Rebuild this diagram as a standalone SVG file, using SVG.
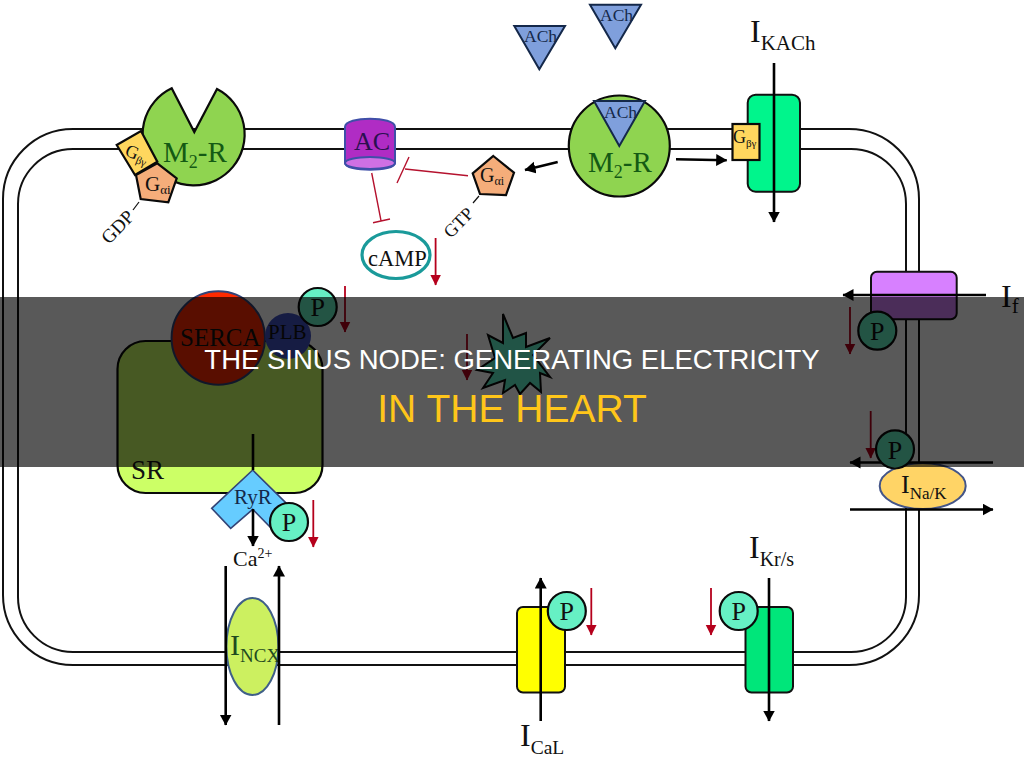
<svg xmlns="http://www.w3.org/2000/svg" width="1024" height="757" viewBox="0 0 1024 757">
<style>
.s{font-family:"Liberation Serif","Times New Roman",serif;fill:#111}
.ln{fill:none;stroke:#111;stroke-width:2}
.blk{stroke:#000;stroke-width:2.6;fill:none}
.bk{stroke:#000;stroke-width:2.6;fill:none;marker-end:url(#ah)}
.rd{stroke:#b5001c;stroke-width:1.8;fill:none;marker-end:url(#rh)}
.inh{stroke:#b5122e;stroke-width:1.4;fill:none}
.ph{fill:#66f0c4;stroke:#0a0a0a;stroke-width:2.2}
.ach{fill:#7f9fdc;stroke:#14284a;stroke-width:2}
.rec{fill:#8fd450;stroke:#0a0a0a;stroke-width:2.2}
.box{stroke:#111;stroke-width:2}
.title{font-family:"Liberation Sans",Arial,sans-serif;text-anchor:middle}
</style>
<defs>
<marker id="ah" markerUnits="userSpaceOnUse" markerWidth="14" markerHeight="14" refX="10.5" refY="6" orient="auto"><path d="M0 0L11 6L0 12Z" fill="#000"/></marker>
<marker id="rh" markerUnits="userSpaceOnUse" markerWidth="14" markerHeight="14" refX="10.5" refY="5.5" orient="auto"><path d="M0 0L11 5.5L0 11Z" fill="#b5001c"/></marker>
</defs>
<rect width="1024" height="757" fill="#fff"/>
<g id="membrane">
<rect class="ln" x="3" y="129" width="916" height="536" rx="70"/>
<rect class="ln" x="18" y="149" width="888" height="503" rx="55"/>
</g>
<g id="sr">
<rect x="117.5" y="341" width="205" height="152" rx="28" fill="#ccff66" stroke="#0a0a0a" stroke-width="2.2"/>
<text class="s" x="131" y="479" font-size="27">SR</text>
</g>
<g id="m2r-left">
<path class="rec" d="M171.7 88.3A51 51 0 1 0 217 89L194.3 132Z"/>
<text x="163" y="162" font-size="29" class="s" style="fill:#145a14">M<tspan font-size="18" dy="6">2</tspan><tspan dy="-6">-R</tspan></text></g>
<g id="gbg-left"><polygon points="116.7,145 141,131 157.3,161.7 135,175" fill="#ffd75e" stroke="#0a0a0a" stroke-width="2.2"/>
<text class="s" x="124" y="155" font-size="18" transform="rotate(22 124 155)">G<tspan font-size="11" dy="3">βγ</tspan></text></g>
<g id="gai-left"><polygon points="136,175 157.3,163.3 176.7,178.3 168.3,202.3 140.7,199" fill="#f5ad7a" stroke="#0a0a0a" stroke-width="2.2"/>
<text class="s" x="145" y="191" font-size="21">G<tspan font-size="13" dy="3">αi</tspan></text></g>
<g id="gdp"><text class="s" x="109" y="245" font-size="19" transform="rotate(-46 109 245)">GDP</text><path d="M133 210L139 202" stroke="#111" stroke-width="1.2"/></g>
<g id="ac">
<path d="M345 127C345 116 395 116 395 127V163C395 172 345 172 345 163Z" fill="#b02cc4" stroke="#3f4fa8" stroke-width="2"/>
<ellipse cx="370" cy="163" rx="25" ry="6" fill="#cf70e4" stroke="#3f4fa8" stroke-width="2"/>
<text x="354" y="150" font-size="26" class="s" style="fill:#2a1050">AC</text></g>
<g id="camp"><ellipse cx="396" cy="255" rx="34" ry="23.5" fill="#fff" stroke="#1a9a9a" stroke-width="3.2"/>
<text class="s" x="368" y="266" font-size="22.5">cAMP</text></g>
<g id="ach-1"><polygon class="ach" points="514.3,26 565,26 539.3,69.3"/><text x="524" y="42" font-size="17.5" class="s" style="fill:#14284a">ACh</text></g>
<g id="ach-2"><polygon class="ach" points="590,4.7 641,4.7 615.3,48.3"/><text x="600" y="21" font-size="17.5" class="s" style="fill:#14284a">ACh</text></g>
<g id="m2r-right">
<circle class="rec" cx="619.3" cy="146" r="50.5"/>
<polygon class="ach" points="594,101 645,101 619.3,146"/>
<text x="604" y="118" font-size="17.5" class="s" style="fill:#14284a">ACh</text>
<text x="588" y="172" font-size="29" class="s" style="fill:#145a14">M<tspan font-size="18" dy="6">2</tspan><tspan dy="-6">-R</tspan></text></g>
<g id="gai-right"><polygon points="493.3,156 514,172.7 506,195 480,194 472.7,173.3" fill="#f5ad7a" stroke="#0a0a0a" stroke-width="2.2"/>
<text class="s" x="480" y="182" font-size="20">G<tspan font-size="12" dy="3">αi</tspan></text></g>
<g id="gtp"><text class="s" x="451" y="239" font-size="18" transform="rotate(-46 451 239)">GTP</text><path d="M473 203L479 196" stroke="#111" stroke-width="1.2"/></g>
<g id="ikach"><rect class="box" x="747.7" y="94.7" width="52.3" height="97" rx="8" fill="#00f58c"/>
<text class="s" x="750" y="42" font-size="32">I<tspan font-size="21" dy="8">KACh</tspan></text></g>
<g id="gbg-right"><rect x="732.5" y="124" width="27" height="36" fill="#ffd75e" stroke="#0a0a0a" stroke-width="2.2"/>
<text class="s" x="733" y="143" font-size="18">G<tspan font-size="11" dy="4">βγ</tspan></text></g>
<g id="serca"><circle cx="218.3" cy="338" r="46.7" fill="#ff2a00" stroke="#334477" stroke-width="2"/>
<text class="s" x="180" y="346" font-size="25">SERCA</text></g>
<g id="plb"><ellipse cx="288" cy="336" rx="23" ry="23" fill="#4050c0"/>
<text class="s" x="268" y="339" font-size="21">PLB</text></g>
<g id="star"><polygon points="503,314 513,338 526,333 526,347 550,338 533,355 550,377 540,373 541,392 530,383 520,394 515,385 503,393 505,380 483,388 493,373 477,370 495,358 488,335 503,343" fill="#5ff0c8" stroke="#0a0a0a" stroke-width="2"/></g>
<g id="if-channel"><rect class="box" x="871" y="271.7" width="85.7" height="47.5" rx="6" fill="#d780ff"/>
<text class="s" x="1001" y="307" font-size="32">I<tspan font-size="21" dy="6">f</tspan></text></g>
<g id="ina-k"><ellipse cx="922.7" cy="486" rx="43" ry="23" fill="#ffd466" stroke="#445588" stroke-width="2"/>
<text class="s" x="901" y="493" font-size="26">I<tspan font-size="17" dy="6">Na/K</tspan></text></g>
<g id="ryr"><polygon points="252.7,470 288,505 273,530 252.7,509.3 230.7,528.3 211.7,508.3" fill="#66ccff" stroke="#334477" stroke-width="1.6"/>
<text class="s" x="234" y="504" font-size="21" style="fill:#14284a">RyR</text></g>
<g id="ca"><text class="s" x="233" y="566" font-size="22">Ca<tspan font-size="14" dy="-8">2+</tspan></text></g>
<g id="incx"><ellipse cx="252.4" cy="646.5" rx="26" ry="48.5" fill="#ccf060" stroke="#3f5f88" stroke-width="2"/>
<text class="s" x="230" y="655" font-size="30" style="fill:#1f4a20">I<tspan font-size="19" dy="7">NCX</tspan></text></g>
<g id="ical"><rect class="box" x="517" y="607" width="48" height="85.5" rx="6" fill="#ffff00"/>
<text class="s" x="520" y="746" font-size="32">I<tspan font-size="19.5" dy="8">CaL</tspan></text></g>
<g id="ikrs"><rect class="box" x="745.5" y="607" width="47.5" height="85.5" rx="6" fill="#00e67a"/>
<text class="s" x="749" y="558" font-size="32">I<tspan font-size="20" dy="8">Kr/s</tspan></text></g>
<g id="connectors">
<path class="inh" d="M371.7 173L381 220.7M373 222.7L390 219"/>
<path class="inh" d="M468 175.7L405 169M409 157L397 183"/>
<path class="rd" d="M435.6 238V285"/>
<path class="bk" d="M557.7 162L525 170"/>
<path class="bk" d="M676 159.3L726.7 160.3"/>
<path class="bk" d="M774 63V222"/>
<path class="blk" d="M253 434V470"/>
<path class="bk" d="M253 509V546"/>
<path class="rd" d="M313.3 500V547"/>
<path class="rd" d="M345 286V332"/>
<path class="rd" d="M467 334V380"/>
<path class="bk" d="M986 295H843"/>
<path class="rd" d="M850 307V354"/>
<path class="rd" d="M870.7 411V458"/>
<path class="bk" d="M993 462.5H850"/>
<path class="bk" d="M850 509.5H993"/>
<path class="bk" d="M225.7 566V725"/>
<path class="bk" d="M279 725V566"/>
<path class="bk" d="M540.7 721V578"/>
<path class="rd" d="M591.3 588V635"/>
<path class="bk" d="M769 578V721"/>
<path class="rd" d="M711 588V635"/>
</g>
<g id="p-plb"><circle class="ph" cx="317.7" cy="307" r="19"/><text class="s" x="317.7" y="316" font-size="26" text-anchor="middle">P</text></g>
<g id="p-ryr"><circle class="ph" cx="289" cy="522" r="19"/><text class="s" x="289" y="531" font-size="26" text-anchor="middle">P</text></g>
<g id="p-if"><circle class="ph" cx="877.3" cy="330.7" r="19"/><text class="s" x="877.3" y="340" font-size="26" text-anchor="middle">P</text></g>
<g id="p-nak"><circle class="ph" cx="895" cy="449.3" r="19"/><text class="s" x="895" y="458.5" font-size="26" text-anchor="middle">P</text></g>
<g id="p-cal"><circle class="ph" cx="566.8" cy="611" r="19"/><text class="s" x="566.8" y="620" font-size="26" text-anchor="middle">P</text></g>
<g id="p-kr"><circle class="ph" cx="738.7" cy="611" r="19"/><text class="s" x="738.7" y="620" font-size="26" text-anchor="middle">P</text></g>
<g id="title-band">
<rect x="0" y="297" width="1024" height="170" fill="#000" fill-opacity=".65"/>
<text class="title" x="512" y="369" font-size="27.5" fill="#fff">THE SINUS NODE: GENERATING ELECTRICITY</text>
<text class="title" x="512" y="422" font-size="39" fill="#ffc61a">IN THE HEART</text>
</g>
</svg>
